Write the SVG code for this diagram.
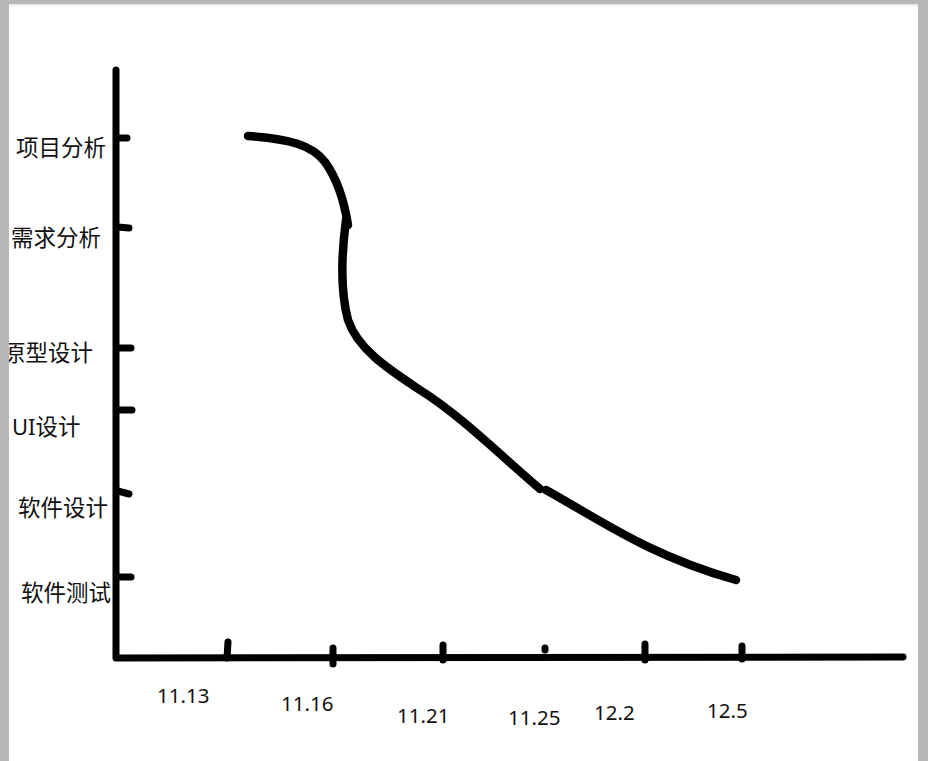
<svg xmlns="http://www.w3.org/2000/svg" width="928" height="761" viewBox="0 0 928 761">
<style>
.ax{fill:none;stroke:#000;stroke-width:7;stroke-linecap:round;stroke-linejoin:round}
.tk{fill:none;stroke:#000;stroke-width:7;stroke-linecap:round}
.cv{fill:none;stroke:#000;stroke-width:8.5;stroke-linecap:round;stroke-linejoin:round}
.lb{font-family:"Noto Sans CJK SC","Noto Sans",sans-serif;font-size:22.5px;fill:#111}
.nm{font-family:"Noto Sans","Open Sans",sans-serif;font-size:20.5px;fill:#111}
</style>
<rect x="0" y="0" width="928" height="761" fill="#fff"/>
<g id="labels-y">
<text class="lb" x="16" y="156">项目分析</text>
<text class="lb" x="11" y="246">需求分析</text>
<text class="lb" x="3" y="361">原型设计</text>
<text class="nm" x="12" y="435" style="font-size:22px">UI<tspan class="lb">设计</tspan></text>
<text class="lb" x="18" y="516">软件设计</text>
<text class="lb" x="21" y="601">软件测试</text>
</g>
<g id="labels-x">
<text class="nm" x="157" y="703">11.13</text>
<text class="nm" x="281" y="711">11.16</text>
<text class="nm" x="397" y="723">11.21</text>
<text class="nm" x="508" y="725">11.25</text>
<text class="nm" x="594" y="720">12.2</text>
<text class="nm" x="707" y="718">12.5</text>
</g>
<g id="axes">
<path class="ax" d="M116,70 L116,658 L903,657"/>
<path class="tk" d="M118,138 L127,138 M118,227 L129,228 M118,348 L131,348 M118,410 L132,410 M118,491 L129,494 M118,577 L131,577"/>
<path class="tk" d="M228,642 L227,658 M333,648 L333,664 M443,645 L443,660 M545,648 L545,650 M645,644 L645,660 M742,646 L742,659"/>
</g>
<g id="curve">
<path class="cv" d="M248,136 C290,139 312,145 325,162 C338,180 344,200 348,225"/>
<path class="cv" d="M346,220 C342,250 340,290 348,320 C358,350 390,370 420,390 C460,415 500,455 540,489"/>
<path class="cv" d="M546,490 C600,520 650,556 736,580"/>
</g>
<g id="frame">
<path d="M0,0 H928 V761 H918 V4 H9 V761 H0 Z" fill="#b6b7b6"/>
<rect x="9" y="4" width="909" height="1.5" fill="#e6e7e6"/>
</g>
</svg>
